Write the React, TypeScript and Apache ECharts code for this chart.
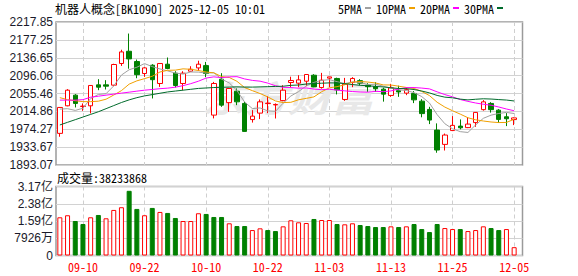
import React, { useEffect, useRef } from 'react';
import * as echarts from 'echarts';

// ---- data ----
const dates = [
  '09-05', '09-08', '09-09', '09-10', '09-11', '09-12', '09-15', '09-16', '09-17', '09-18',
  '09-19', '09-22', '09-23', '09-24', '09-25', '09-26', '09-29', '09-30', '10-09', '10-10',
  '10-13', '10-14', '10-15', '10-16', '10-17', '10-20', '10-21', '10-22', '10-23', '10-24',
  '10-27', '10-28', '10-29', '10-30', '10-31', '11-03', '11-04', '11-05', '11-06', '11-07',
  '11-10', '11-11', '11-12', '11-13', '11-14', '11-17', '11-18', '11-19', '11-20', '11-21',
  '11-24', '11-25', '11-26', '11-27', '11-28', '12-01', '12-02', '12-03', '12-04', '12-05',
];
const opens = [
  1964.9, 2027.5, 2051.7, 2026.0, 2027.5, 2075.1, 2075.1, 2074.4, 2123.6, 2151.4,
  2128.1, 2100.9, 2119.7, 2078.2, 2122.0, 2101.6, 2078.2, 2106.1, 2113.6, 2118.8,
  2006.4, 2088.0, 2034.7, 2060.8, 2032.9, 1996.2, 2010.9, 2032.5, 2029.5, 2039.3,
  2080.5, 2078.9, 2083.4, 2097.0, 2069.1, 2090.3, 2089.6, 2041.9, 2080.5, 2084.6,
  2074.3, 2071.0, 2065.3, 2051.0, 2061.9, 2056.3, 2055.6, 2038.1, 2019.3, 1972.4,
  1939.9, 1971.3, 1981.4, 1978.0, 1989.4, 2018.8, 2032.9, 2017.7, 2002.6, 1996.2,
];
const closes = [
  2023.8, 2063.0, 2032.9, 2026.8, 2073.7, 2069.8, 2072.1, 2121.3, 2149.9, 2134.0,
  2098.2, 2113.6, 2086.8, 2123.6, 2112.2, 2073.7, 2101.6, 2110.6, 2122.0, 2100.9,
  2078.2, 2029.0, 2066.9, 2036.5, 1969.4, 2004.1, 2036.5, 2033.6, 2030.6, 2063.0,
  2085.0, 2086.4, 2098.6, 2070.5, 2085.7, 2093.2, 2063.7, 2076.6, 2089.6, 2078.9,
  2071.0, 2066.4, 2054.0, 2068.2, 2059.0, 2064.2, 2041.0, 2009.8, 1995.1, 1927.1,
  1961.1, 1983.1, 1977.6, 1986.0, 2012.5, 2036.5, 2018.8, 1996.6, 1998.1, 2000.0,
];
const lows = [
  1957.2, 2026.5, 2023.8, 2016.1, 2010.2, 2063.0, 2064.6, 2072.0, 2118.1, 2111.8,
  2090.2, 2093.2, 2044.2, 2070.5, 2110.6, 2069.1, 2063.0, 2105.0, 2107.0, 2092.5,
  1998.9, 2025.2, 2013.9, 2029.0, 1969.0, 1989.4, 1997.3, 2010.9, 1998.7, 2038.0,
  2069.1, 2069.8, 2072.1, 2069.8, 2066.4, 2069.8, 2053.3, 2038.8, 2069.8, 2074.4,
  2059.2, 2059.2, 2037.0, 2047.9, 2047.9, 2051.7, 2033.6, 2001.4, 1986.0, 1920.9,
  1926.0, 1970.1, 1974.0, 1976.9, 1979.8, 2016.6, 2012.0, 1988.9, 1981.4, 1983.7,
];
const highs = [
  2024.5, 2065.3, 2054.0, 2032.9, 2074.4, 2088.0, 2085.7, 2123.0, 2154.8, 2191.6,
  2132.6, 2115.2, 2122.0, 2124.2, 2137.2, 2106.1, 2106.1, 2117.4, 2129.9, 2127.2,
  2081.8, 2101.6, 2067.6, 2066.9, 2036.5, 2017.7, 2041.9, 2049.4, 2032.9, 2074.3,
  2093.6, 2097.0, 2099.3, 2099.3, 2102.3, 2093.6, 2091.4, 2090.9, 2092.5, 2088.0,
  2078.9, 2081.1, 2068.7, 2077.3, 2073.3, 2068.7, 2060.8, 2042.6, 2025.2, 1987.6,
  1964.5, 2004.1, 1996.6, 2001.8, 2013.2, 2040.4, 2035.8, 2020.0, 2010.9, 2001.1,
];
// volume in millions of shares
const volumesM = [
  175.6, 184.9, 158.5, 144.7, 175.6, 186.2, 171.0, 209.4, 221.8, 297.2,
  214.0, 184.9, 218.6, 200.1, 195.5, 172.4, 158.5, 158.5, 194.1, 190.9,
  177.0, 177.0, 147.9, 135.4, 135.4, 116.9, 124.8, 116.9, 112.3, 134.0,
  161.8, 152.5, 149.3, 167.8, 163.1, 163.1, 144.7, 143.3, 147.9, 140.0,
  135.4, 130.8, 130.8, 134.0, 130.8, 134.0, 144.7, 121.5, 107.7, 144.7,
  126.2, 121.5, 121.5, 112.3, 116.9, 134.0, 126.2, 116.9, 121.5, 38.233868,
];
// moving-average values before a full window exists in the visible data
const ma5Lead = [2020.0, 2021.0, 2017.0, 2022.0];
const ma10Lead = [2046.0, 2041.5, 2039.0, 2037.0, 2037.0, 2038.0, 2042.5, 2052.0, 2062.0];
const ma20Lead = [
  2040.4, 2040.4, 2040.4, 2041.5, 2047.0, 2049.3, 2051.7, 2054.0, 2056.3, 2058.5,
  2060.8, 2063.0, 2064.6, 2066.4, 2067.6, 2069.8, 2073.3, 2077.8, 2083.4,
];
const ma30Lead = [
  1984.0, 1990.0, 1996.0, 2002.0, 2008.0, 2014.0, 2021.0, 2028.0, 2035.0, 2041.0,
  2046.0, 2050.0, 2053.0, 2056.0, 2059.0, 2061.0, 2063.0, 2065.0, 2067.0, 2068.0,
  2069.0, 2069.5, 2070.0, 2070.5, 2070.0, 2070.0, 2070.5, 2071.0, 2071.5,
];
const priceTicks = ['1893.07', '1933.67', '1974.27', '2014.86', '2055.46', '2096.06', '2136.65', '2177.25', '2217.85'];
const volumeTicks = ['0', '7926万', '1.59亿', '2.38亿', '3.17亿'];
const priceMin = 1893.07;
const priceMax = 2217.85;
const volumeMaxM = 317.04;
const titleText = '机器人概念[BK1090] 2025-12-05 10:01';
const volumeText = '成交量:38233868';
const maNames = ['5PMA', '10PMA', '20PMA', '30PMA'];
const maColors = ['#a0a0a0', '#f0a000', '#ff00ff', '#006b2c'];

const MONO = "'Noto Sans Mono CJK SC', 'Noto Sans CJK SC', 'DejaVu Sans Mono', monospace";
const SANS = "'Liberation Sans', Arial, 'Noto Sans CJK SC', sans-serif";
const UP = '#ff0000';
const DOWN = '#008000';

function movingAverage(n: number, lead: number[]) {
  return closes.map((_, i) => {
    if (i < n - 1) return lead[i];
    let s = 0;
    for (let k = i - n + 1; k <= i; k++) s += closes[k];
    return +(s / n).toFixed(2);
  });
}

const labelInterval = (idx: number) => idx % 8 === 3;

export default function App() {
  const ref = useRef<HTMLDivElement>(null);
  useEffect(() => {
    const chart = echarts.init(ref.current!, null, { renderer: 'svg' });
    const candleData = dates.map((_, i) => [opens[i], closes[i], lows[i], highs[i]]);
    const volData = volumesM.map((v, i) => {
      const up = i === 0 ? closes[i] >= opens[i] : closes[i] >= closes[i - 1];
      return {
        value: v,
        itemStyle: up
          ? { color: '#ffffff', borderColor: UP, borderWidth: 1 }
          : { color: DOWN, borderColor: DOWN, borderWidth: 1 },
      };
    });
    const mas = [
      movingAverage(5, ma5Lead),
      movingAverage(10, ma10Lead),
      movingAverage(20, ma20Lead),
      movingAverage(30, ma30Lead),
    ];
    const dashed = { color: '#cfcfcf', type: [4, 3] as any, width: 1 };
    const option: any = {
      animation: false,
      backgroundColor: '#ffffff',
      legend: {
        data: maNames,
        left: 338,
        top: 2,
        padding: 0,
        align: 'right',
        icon: 'rect',
        itemWidth: 6,
        itemHeight: 2,
        itemGap: 5,
        selectedMode: false,
        textStyle: { fontFamily: MONO, fontSize: 12, color: '#000000', padding: [0, -2, 0, 0] },
      },
      graphic: [
        {
          type: 'text', left: 55, top: 2, z: 5,
          style: { text: titleText, font: `12px ${MONO}`, fill: '#000000' },
        },
        {
          type: 'text', left: 57, top: 171, z: 5,
          style: { text: volumeText, font: `12px ${MONO}`, fill: '#000000' },
        },
        {
          type: 'text', x: 288, y: 96, z: 1, scaleX: 1.2,
          style: {
            text: '东方财富', font: `italic bold 36px 'Noto Sans CJK SC'`, fill: '#e8e8e8',
            align: 'center', verticalAlign: 'middle',
          },
        },
      ],
      grid: [
        { left: 56, top: 22, width: 466.5, height: 143, show: true, borderColor: '#9a9a9a', borderWidth: 1.5 },
        { left: 56, top: 22, width: 462, height: 143 },
        { left: 56, top: 186.5, width: 466.5, height: 69, show: true, borderColor: '#9a9a9a', borderWidth: 1.5 },
        { left: 56, top: 186.5, width: 462, height: 69 },
      ],
      xAxis: [
        { gridIndex: 0, type: 'value', show: false, min: 0, max: 1 },
        {
          gridIndex: 1, type: 'category', data: dates, boundaryGap: true,
          axisLine: { show: false }, axisTick: { show: false }, axisLabel: { show: false },
          splitLine: { show: true, interval: labelInterval, alignWithLabel: true, lineStyle: dashed },
        },
        { gridIndex: 2, type: 'value', show: false, min: 0, max: 1 },
        {
          gridIndex: 3, type: 'category', data: dates, boundaryGap: true,
          axisLine: { show: false }, axisTick: { show: false },
          axisLabel: { interval: labelInterval, color: UP, fontSize: 12, fontFamily: MONO, margin: 5 },
          splitLine: { show: true, interval: labelInterval, alignWithLabel: true, lineStyle: dashed },
        },
      ],
      yAxis: [
        {
          gridIndex: 0, type: 'value', min: 0, max: 8, interval: 1,
          axisLine: { show: false }, axisTick: { show: false },
          axisLabel: { formatter: (v: number) => priceTicks[v] ?? '', color: '#1a1a2a', fontSize: 12, fontFamily: SANS, margin: 3 },
          splitLine: { show: true, lineStyle: { color: '#d2d2d2', width: 1 } },
        },
        { gridIndex: 1, type: 'value', min: priceMin, max: priceMax, show: false, splitLine: { show: false } },
        {
          gridIndex: 2, type: 'value', min: 0, max: 4, interval: 1,
          axisLine: { show: false }, axisTick: { show: false },
          axisLabel: { formatter: (v: number) => volumeTicks[v] ?? '', color: '#1a1a2a', fontSize: 12, fontFamily: SANS, margin: 3 },
          splitLine: { show: true, lineStyle: { color: '#d2d2d2', width: 1 } },
        },
        { gridIndex: 3, type: 'value', min: 0, max: volumeMaxM, show: false, splitLine: { show: false } },
      ],
      series: [
        {
          type: 'candlestick', name: 'K', xAxisIndex: 1, yAxisIndex: 1, data: candleData,
          barWidth: 5, z: 2,
          itemStyle: { color: '#ffffff', color0: DOWN, borderColor: UP, borderColor0: DOWN, borderWidth: 1 },
        },
        ...maNames.map((name, k) => ({
          type: 'line', name, xAxisIndex: 1, yAxisIndex: 1, data: mas[k],
          showSymbol: false, symbol: 'none', smooth: false, z: 3,
          color: maColors[k],
          lineStyle: { color: maColors[k], width: 1 },
        })),
        {
          type: 'bar', name: 'VOL', xAxisIndex: 3, yAxisIndex: 3, data: volData, barWidth: 5, z: 2,
        },
      ],
    };
    chart.setOption(option);
    return () => chart.dispose();
  }, []);
  return <div ref={ref} style={{ position: 'fixed', left: 0, top: 0, width: 578, height: 276 }} />;
}
